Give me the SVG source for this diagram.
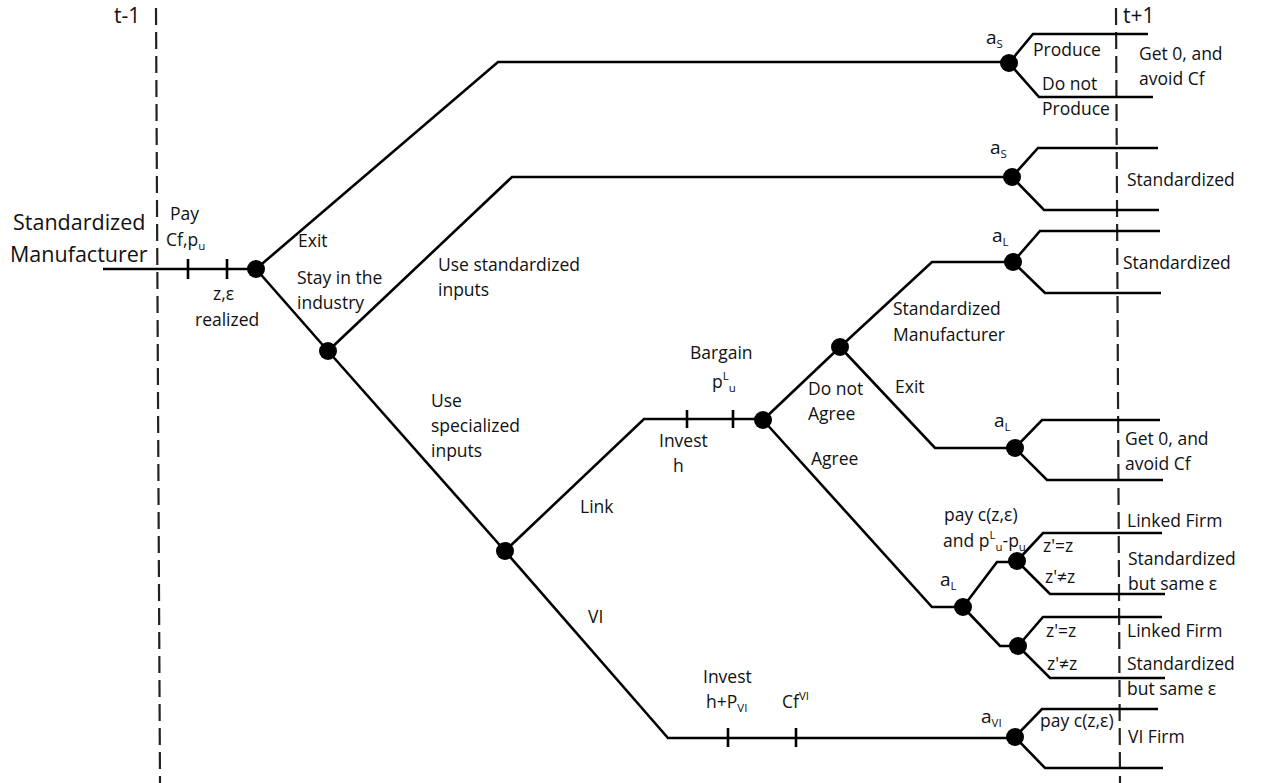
<svg xmlns="http://www.w3.org/2000/svg" width="1269" height="783" viewBox="0 0 1269 783">
<style>
text{font-family:"Open Sans","Liberation Sans",sans-serif;font-size:17.5px;fill:#111}
.big{font-size:21.5px}
.hd{font-size:19px}
.tt{font-size:21px}
.s{font-size:11.5px}
.edge{fill:none;stroke:#000;stroke-width:2.6;stroke-linejoin:miter}
.tick{stroke:#000;stroke-width:2.6}
.dash{stroke:#222;stroke-width:2.2;stroke-dasharray:17 7}
.node{fill:#000}
</style>
<rect width="1269" height="783" fill="#fff"/>

<g id="timeline">
<line class="dash" x1="156" y1="8" x2="160" y2="783"/>
<line class="dash" x1="1116" y1="8" x2="1120" y2="783"/>
<text class="tt" x="114" y="23">t-1</text>
<text class="tt" x="1123" y="23">t+1</text>
</g>

<g id="connectors">
<path class="edge" d="M103 269H256"/>
<path class="edge" d="M256 269L498 62H1009"/>
<path class="edge" d="M256 269L328 351"/>
<path class="edge" d="M328 351L512 177H1012"/>
<path class="edge" d="M328 351L505 551"/>
<path class="edge" d="M505 551L644 419H763"/>
<path class="edge" d="M505 551L668 738H1015"/>
<path class="edge" d="M763 420L840 347"/>
<path class="edge" d="M763 420L932 607H963"/>
<path class="edge" d="M840 347L932 262H1013"/>
<path class="edge" d="M840 347L935 448H1015"/>
<path class="edge" d="M1009 63L1033 34H1148M1009 63L1039 97H1153"/>
<path class="edge" d="M1012 177L1038 148H1158M1012 177L1044 210H1159"/>
<path class="edge" d="M1013 262L1040 231H1160M1013 262L1045 293H1161"/>
<path class="edge" d="M1015 448L1042 420H1160M1015 448L1047 480H1163"/>
<path class="edge" d="M963 607L997 562H1017M963 607L1000 646H1018"/>
<path class="edge" d="M1017 561L1043 533H1162M1017 561L1050 594H1165"/>
<path class="edge" d="M1018 646L1043 617H1162M1018 646L1050 678H1165"/>
<path class="edge" d="M1015 737L1042 709H1158M1015 737L1045 768H1163"/>
<line class="tick" x1="188" y1="259" x2="188" y2="279"/>
<line class="tick" x1="227" y1="259" x2="227" y2="279"/>
<line class="tick" x1="687" y1="410" x2="687" y2="428"/>
<line class="tick" x1="733" y1="410" x2="733" y2="428"/>
<line class="tick" x1="728" y1="728" x2="728" y2="747"/>
<line class="tick" x1="796" y1="728" x2="796" y2="747"/>
</g>

<g id="start">
<text class="big" x="13" y="230">Standardized</text>
<text class="big" x="10" y="262">Manufacturer</text>
<text x="170" y="220">Pay</text>
<text x="166" y="246">Cf,p<tspan class="s" dy="4">u</tspan></text>
<text x="213" y="300">z,ε</text>
<text x="195" y="326">realized</text>
</g>

<g id="n-entry">
<circle class="node" cx="256" cy="269" r="9"/>
<text x="298" y="247">Exit</text>
<text x="297" y="284">Stay in the</text>
<text x="297" y="309">industry</text>
</g>

<g id="n-inputs">
<circle class="node" cx="328" cy="351" r="9"/>
<text x="438" y="271">Use standardized</text>
<text x="438" y="296">inputs</text>
<text x="431" y="407">Use</text>
<text x="431" y="432">specialized</text>
<text x="431" y="457">inputs</text>
</g>

<g id="n-spec">
<circle class="node" cx="505" cy="551" r="9"/>
<text x="580" y="513">Link</text>
<text x="588" y="623">VI</text>
</g>

<g id="n-bargain">
<circle class="node" cx="763" cy="420" r="9"/>
<text x="690" y="359">Bargain</text>
<text x="712" y="388">p<tspan class="s" dy="-8">L</tspan><tspan class="s" dy="12">u</tspan></text>
<text x="659" y="447">Invest</text>
<text x="673" y="472">h</text>
<text x="808" y="395">Do not</text>
<text x="808" y="420">Agree</text>
<text x="811" y="465">Agree</text>
</g>

<g id="n-disagree">
<circle class="node" cx="840" cy="347" r="9"/>
<text x="893" y="315">Standardized</text>
<text x="893" y="341">Manufacturer</text>
<text x="895" y="393">Exit</text>
</g>

<g id="n-aS-exit">
<circle class="node" cx="1009" cy="63" r="9"/>
<text class="hd" x="986" y="44">a<tspan class="s" dy="4">S</tspan></text>
<text x="1033" y="56">Produce</text>
<text x="1042" y="90">Do not</text>
<text x="1042" y="115">Produce</text>
<text x="1139" y="60">Get 0, and</text>
<text x="1139" y="85">avoid Cf</text>
</g>

<g id="n-aS-std">
<circle class="node" cx="1012" cy="177" r="9"/>
<text class="hd" x="990" y="154">a<tspan class="s" dy="4">S</tspan></text>
<text x="1127" y="186">Standardized</text>
</g>

<g id="n-aL-std">
<circle class="node" cx="1013" cy="262" r="9"/>
<text class="hd" x="992" y="242">a<tspan class="s" dy="4">L</tspan></text>
<text x="1123" y="269">Standardized</text>
</g>

<g id="n-aL-exit">
<circle class="node" cx="1015" cy="448" r="9"/>
<text class="hd" x="994" y="427">a<tspan class="s" dy="4">L</tspan></text>
<text x="1125" y="445">Get 0, and</text>
<text x="1125" y="470">avoid Cf</text>
</g>

<g id="n-aL-agree">
<circle class="node" cx="963" cy="607" r="9"/>
<text class="hd" x="940" y="586">a<tspan class="s" dy="4">L</tspan></text>
<text x="944" y="521">pay c(z,ε)</text>
<text x="943" y="547">and p<tspan class="s" dy="-8">L</tspan><tspan class="s" dy="12">u</tspan><tspan dy="-4">-p</tspan><tspan class="s" dy="4">u</tspan></text>
</g>

<g id="n-z1">
<circle class="node" cx="1017" cy="561" r="9"/>
<text x="1043" y="552">z'=z</text>
<text x="1045" y="583">z'≠z</text>
<text x="1127" y="527">Linked Firm</text>
<text x="1128" y="565">Standardized</text>
<text x="1128" y="590">but same ε</text>
</g>

<g id="n-z2">
<circle class="node" cx="1018" cy="646" r="9"/>
<text x="1046" y="637">z'=z</text>
<text x="1047" y="670">z'≠z</text>
<text x="1127" y="637">Linked Firm</text>
<text x="1127" y="670">Standardized</text>
<text x="1127" y="695">but same ε</text>
</g>

<g id="n-aVI">
<circle class="node" cx="1015" cy="737" r="9"/>
<text class="hd" x="981" y="723">a<tspan class="s" dy="4">VI</tspan></text>
<text x="1040" y="727">pay c(z,ε)</text>
<text x="1128" y="743">VI Firm</text>
<text x="703" y="683">Invest</text>
<text x="706" y="708">h+P<tspan class="s" dy="4">VI</tspan></text>
<text x="782" y="708">Cf<tspan class="s" dy="-8">VI</tspan></text>
</g>
</svg>
